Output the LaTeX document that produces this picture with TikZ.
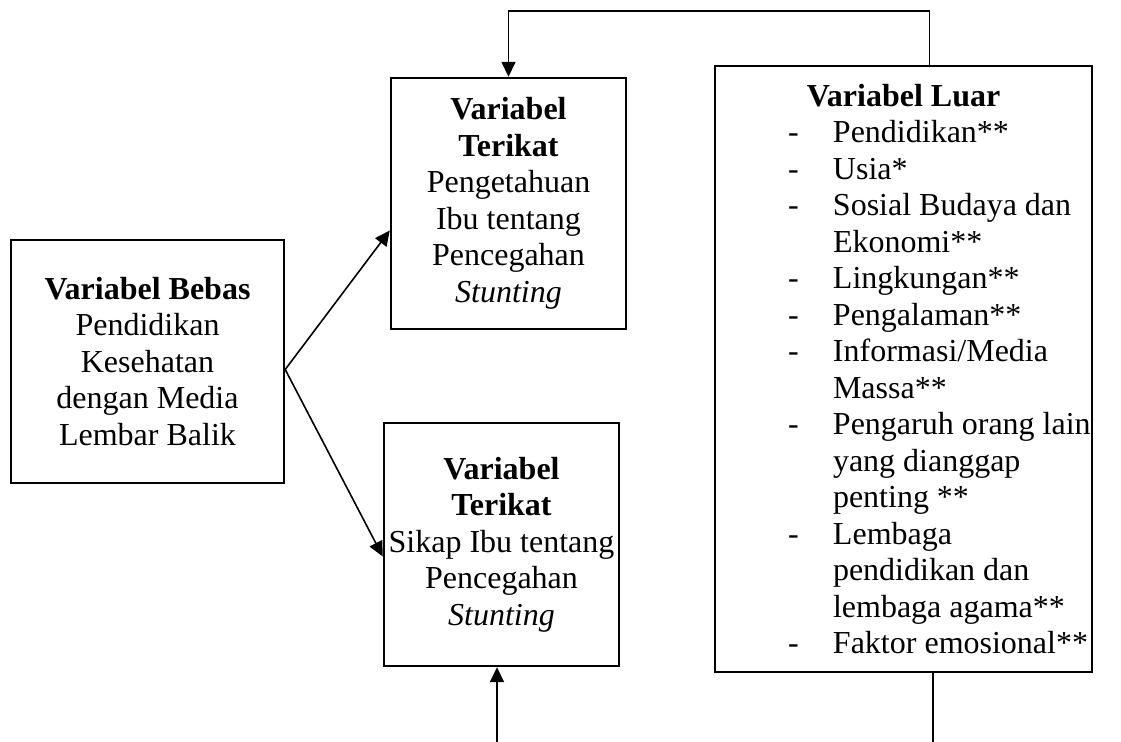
\documentclass[tikz,border=0pt]{standalone}
\usepackage{fontspec}
\setmainfont{Liberation Serif}
\usepackage{tikz}
\usetikzlibrary{arrows.meta,positioning,calc}
\newcommand{\luaritem}[1]{\hspace*{36.5pt}\makebox[22.5pt][l]{-}#1}
\newcommand{\luarcont}[1]{\hspace*{59pt}#1}
\tikzset{
  kvbox/.style={draw=black,line width=1.2pt,align=center,inner sep=2pt,
              font=\fontsize{16}{18.25}\selectfont},
  kvlist/.style={kvbox,align=left,inner xsep=0pt},
  kvflow/.style={-{Triangle[length=7.5pt,width=7pt]},draw=black,line width=0.8pt},
  kvline/.style={draw=black,line width=0.8pt},
}

\begin{document}
\begin{tikzpicture}[x=0.5pt,y=-0.5pt]
  \useasboundingbox (0,0) rectangle (1121,742);
  % Independent variable, left.
  \node[kvbox,minimum width=136.5pt,minimum height=121.5pt] (bebas) at (147.5,361.5)
       {\textbf{Variabel Bebas}\\Pendidikan\\Kesehatan\\dengan Media\\Lembar Balik};

  % Dependent variables, middle column.
  \node[kvbox,minimum width=117.5pt,minimum height=125.5pt] (tahu) at (508.5,203.5)
       {\textbf{Variabel}\\\textbf{Terikat}\\Pengetahuan\\Ibu tentang\\Pencegahan\\\textit{Stunting}};
  \node[kvbox,minimum width=117.5pt,minimum height=121.5pt] (sikap) at (501.5,544.5)
       {\textbf{Variabel}\\\textbf{Terikat}\\Sikap Ibu tentang\\Pencegahan\\\textit{Stunting}};

  % Extraneous variables, right.
  \node[kvlist,minimum width=188.5pt,minimum height=303pt] (luar) at (903.5,369)
       {\makebox[188.5pt]{\textbf{Variabel Luar}}\\
        \luaritem{Pendidikan**}\\
        \luaritem{Usia*}\\
        \luaritem{Sosial Budaya dan}\\
        \luarcont{Ekonomi**}\\
        \luaritem{Lingkungan**}\\
        \luaritem{Pengalaman**}\\
        \luaritem{Informasi/Media}\\
        \luarcont{Massa**}\\
        \luaritem{Pengaruh orang lain}\\
        \luarcont{yang dianggap}\\
        \luarcont{penting **}\\
        \luaritem{Lembaga}\\
        \luarcont{pendidikan dan}\\
        \luarcont{lembaga agama**}\\
        \luaritem{Faktor emosional**}};

  \draw[kvflow] ([yshift=-4pt]bebas.east) -- ([yshift=-13.5pt]tahu.west);
  \draw[kvflow] ([yshift=-4pt]bebas.east) -- ([yshift=-6pt]sikap.west);
  % Outside variables feed back over the top.
  \draw[kvflow] ([xshift=13pt]luar.north) -- ++(0,-54) -| (tahu.north);
  % The two lower links run past the picture's edge.
  \coordinate (lowS) at (497,742);
  \coordinate (lowL) at (933,742);
  \draw[kvflow] (lowS) -- (lowS |- sikap.south);
  \draw[kvline] (luar.south -| lowL) -- (lowL);
\end{tikzpicture}
\end{document}
